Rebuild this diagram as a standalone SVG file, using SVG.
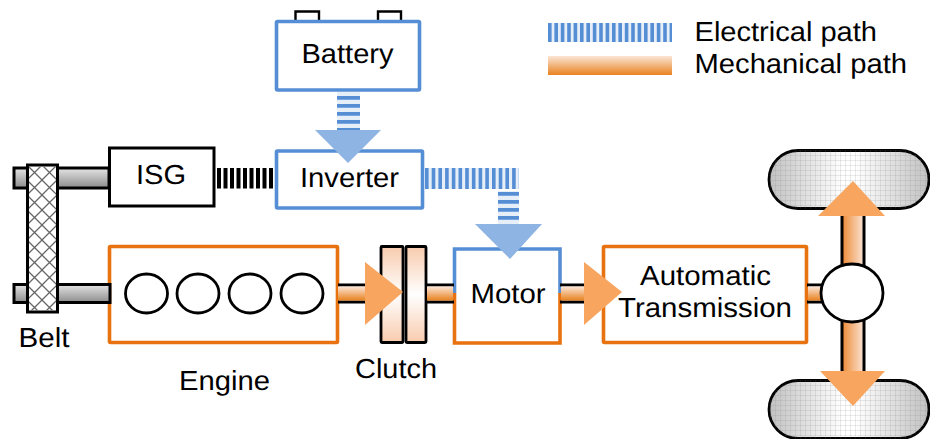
<svg xmlns="http://www.w3.org/2000/svg" width="930" height="439" viewBox="0 0 930 439">
<style>
text{font-family:"Liberation Sans",Arial,sans-serif;font-size:27.5px;fill:#000;text-rendering:geometricPrecision}
.blue{fill:#fff;stroke:#558ED5;stroke-width:3.6}
.orange{fill:#fff;stroke:#E8720F;stroke-width:3.6}
.blk{fill:#fff;stroke:#000;stroke-width:3}
.cyl{fill:#fff;stroke:#000;stroke-width:2.8}
.term{fill:#fff;stroke:#000;stroke-width:2.4}
.sh{stroke:#000;stroke-width:3}
.ea{fill:#8EB4E3}
.ma{fill:#F7A55F}
.pale{stroke:#e6eef8;fill:none}
.el{stroke:#558ED5;fill:none;stroke-dasharray:3.6 2.8}
.el2{stroke:#558ED5;fill:none;stroke-dasharray:3.6 3.1}
.el3{stroke:#558ED5;fill:none;stroke-dasharray:3.8 4.2}
.bk{stroke:#000;fill:none;stroke-dasharray:4 2.5}
</style>
<defs>
<pattern id="hatch" width="15" height="15" patternUnits="userSpaceOnUse" x="27" y="165"><path d="M0 0L15 15M15 0L0 15" stroke="#666" stroke-width="1.3" fill="none"/></pattern>
<pattern id="grid" width="5" height="5" patternUnits="userSpaceOnUse"><path d="M5 0H0V5" stroke="#888" stroke-opacity=".45" stroke-width=".8" fill="none"/></pattern>
<linearGradient id="gs" x1="0" y1="0" x2="0" y2="1"><stop offset="0" stop-color="#e4e4e4"/><stop offset="1" stop-color="#8c8c8c"/></linearGradient>
<linearGradient id="os" x1="0" y1="0" x2="0" y2="1"><stop offset="0" stop-color="#fbe5d6"/><stop offset="1" stop-color="#E8821F"/></linearGradient>
<linearGradient id="oa" x1="0" y1="0" x2="1" y2="0"><stop offset="0" stop-color="#EE8A35"/><stop offset="1" stop-color="#fbe5d6"/></linearGradient>
<linearGradient id="cl" x1="0" y1="0" x2="0" y2="1"><stop offset="0" stop-color="#F8CBAD"/><stop offset=".5" stop-color="#fff"/><stop offset="1" stop-color="#F8CBAD"/></linearGradient>
<linearGradient id="wh" gradientUnits="userSpaceOnUse" x1="768" y1="0" x2="930" y2="0"><stop offset="0" stop-color="#c0c0c0"/><stop offset=".46" stop-color="#fff"/><stop offset=".54" stop-color="#fff"/><stop offset="1" stop-color="#c0c0c0"/></linearGradient>
</defs>

<g id="battery">
<path class="term" d="M295.500 20V11.500H319V20"/>
<path class="term" d="M378 20V11.500H401V20"/>
<rect class="blue" x="276.500" y="21.500" width="143" height="68.500" rx="1"/>
<text x="301.500" y="63" textLength="92" lengthAdjust="spacingAndGlyphs">Battery</text>
</g>
<g id="inverter">
<rect class="blue" x="276.500" y="151" width="146" height="57" rx="1"/>
<text x="300" y="187" textLength="99" lengthAdjust="spacingAndGlyphs">Inverter</text>
</g>
<g id="isg">
<rect class="blk" x="109.500" y="148" width="104.500" height="58"/>
<text x="136" y="184" textLength="50" lengthAdjust="spacingAndGlyphs">ISG</text>
</g>
<g id="engine">
<rect class="orange" x="109.500" y="246.500" width="228" height="96" rx="1"/>
<ellipse class="cyl" cx="146.500" cy="293.500" rx="21" ry="19.500"/>
<ellipse class="cyl" cx="198" cy="293.500" rx="21" ry="19.500"/>
<ellipse class="cyl" cx="250" cy="293.500" rx="21" ry="19.500"/>
<ellipse class="cyl" cx="302" cy="293.500" rx="21" ry="19.500"/>
<text x="179" y="390" textLength="91" lengthAdjust="spacingAndGlyphs">Engine</text>
</g>
<g id="clutch">
<rect x="381" y="246.500" width="22" height="96" fill="url(#cl)" stroke="#000" stroke-width="2.800" rx="1"/>
<rect x="406" y="246.500" width="20" height="96" fill="url(#cl)" stroke="#000" stroke-width="2.800" rx="1"/>
<text x="355" y="378" textLength="82" lengthAdjust="spacingAndGlyphs">Clutch</text>
</g>
<g id="motor">
<rect x="454" y="249" width="106" height="94" fill="#fff"/>
<path d="M454.500 293V249H560V293" fill="none" stroke="#558ED5" stroke-width="3.600"/>
<path d="M454.500 293V343H560V293" fill="none" stroke="#E8720F" stroke-width="3.600"/>
<text x="470.500" y="303" textLength="75" lengthAdjust="spacingAndGlyphs">Motor</text>
</g>
<g id="transmission">
<rect class="orange" x="603.500" y="246.500" width="203" height="96" rx="1"/>
<text x="640" y="285" textLength="131" lengthAdjust="spacingAndGlyphs">Automatic</text>
<text x="618" y="317" textLength="174" lengthAdjust="spacingAndGlyphs">Transmission</text>
</g>
<g id="wheel-top">
<rect x="769" y="150.500" width="160" height="58" rx="29" fill="url(#wh)" stroke="#000" stroke-width="2.800"/>
<rect x="769" y="150.500" width="160" height="58" rx="29" fill="url(#grid)"/>
</g>
<g id="wheel-bottom">
<rect x="769" y="380.500" width="160" height="58" rx="29" fill="url(#wh)" stroke="#000" stroke-width="2.800"/>
<rect x="769" y="380.500" width="160" height="58" rx="29" fill="url(#grid)"/>
</g>

<g id="connectors">
<rect class="sh" x="14" y="168" width="95" height="20" fill="url(#gs)"/>
<rect class="sh" x="14" y="284.500" width="96" height="18" fill="url(#gs)"/>
<path class="bk" stroke-width="20.500" d="M217 178.250H275"/>
<path class="pale" stroke-width="23" d="M348.500 92V130"/>
<path class="el3" stroke-width="23" d="M348.500 96V130"/>
<path class="pale" stroke-width="21" d="M425 178.500H519"/>
<path class="el2" stroke-width="21" d="M425 178.500H519"/>
<path class="pale" stroke-width="21" d="M508.500 191V224"/>
<path class="el3" stroke-width="21" d="M508.500 192V224"/>
<path class="sh" d="M338 285H381M338 302H381M426 285H454M426 302H454M560 285H603M560 302H603M807 285H822M807 302H822" fill="none"/>
<rect x="338" y="286.500" width="43" height="14" fill="url(#os)"/>
<rect x="427" y="286.500" width="26" height="14" fill="url(#os)"/>
<rect x="561" y="286.500" width="41" height="14" fill="url(#os)"/>
<rect x="808" y="286.500" width="14" height="14" fill="url(#os)"/>
<rect class="sh" x="842" y="214" width="22" height="56" fill="url(#oa)"/>
<rect class="sh" x="842" y="320" width="22" height="54" fill="url(#oa)"/>
<polygon class="ea" points="315,130 381,130 348,163"/>
<polygon class="ea" points="475,224 542,224 510,259"/>
<polygon class="ma" points="365,262 365,325 403,292"/>
<polygon class="ma" points="584,262 584,325 622,292"/>
<polygon class="ma" points="853,181 818,216 885,216"/>
<polygon class="ma" points="820,371 885,371 853,406"/>
</g>

<g id="belt">
<rect x="27.500" y="165" width="30" height="147" fill="#fff" stroke="#000" stroke-width="3"/>
<rect x="29" y="166.500" width="27" height="144" fill="url(#hatch)"/>
<text x="18.500" y="347" textLength="51" lengthAdjust="spacingAndGlyphs">Belt</text>
</g>
<g id="differential">
<ellipse cx="852" cy="293" rx="31" ry="29" fill="#fff" stroke="#000" stroke-width="2.800"/>
</g>
<g id="legend">
<path class="pale" stroke-width="19" d="M548 32.500H672"/>
<path class="el" stroke-width="19" d="M548 32.500H672"/>
<rect x="548" y="56" width="124" height="19" fill="url(#os)"/>
<text x="694.500" y="41" textLength="182.500" lengthAdjust="spacingAndGlyphs">Electrical path</text>
<text x="694.500" y="73" textLength="212.500" lengthAdjust="spacingAndGlyphs">Mechanical path</text>
</g>
</svg>
